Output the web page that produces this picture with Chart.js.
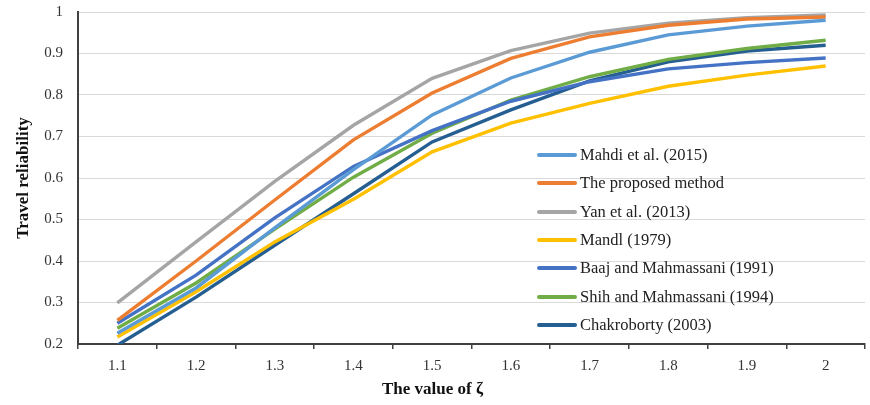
<!DOCTYPE html>
<html>
<head>
<meta charset="utf-8">
<script src="https://cdn.jsdelivr.net/npm/chart.js@4"></script>
<style>
    html, body { margin: 0; padding: 0; background: #fff; }
    #wrap { position: relative; width: 870px; height: 405px; }
    #legend { position: absolute; left: 537px; top: 141px; font-family: "Liberation Serif", "Times New Roman", serif; font-size: 16.5px; color: #222; }
    #legend .row { height: 28.3px; display: flex; align-items: center; }
    #legend .swatch { width: 40px; height: 4px; border-radius: 2px; margin-right: 3px; }
</style>
</head>
<body>
<div id="wrap">
    <canvas id="lineChart" width="870" height="405"></canvas>
    <div id="legend"></div>
</div>
<script>
    // values
    const zeta = ['1.1', '1.2', '1.3', '1.4', '1.5', '1.6', '1.7', '1.8', '1.9', '2'];
    const mahdi = [0.226, 0.335, 0.48, 0.62, 0.752, 0.841, 0.903, 0.945, 0.966, 0.98];
    const proposed = [0.257, 0.40, 0.547, 0.692, 0.805, 0.888, 0.94, 0.968, 0.983, 0.988];
    const yan = [0.299, 0.446, 0.592, 0.727, 0.84, 0.907, 0.949, 0.973, 0.986, 0.993];
    const mandl = [0.217, 0.326, 0.446, 0.549, 0.663, 0.732, 0.78, 0.821, 0.848, 0.87];
    const baaj = [0.25, 0.366, 0.504, 0.628, 0.714, 0.785, 0.832, 0.863, 0.878, 0.889];
    const shih = [0.238, 0.347, 0.477, 0.602, 0.708, 0.788, 0.844, 0.886, 0.912, 0.932];
    const chakroborty = [0.197, 0.313, 0.438, 0.562, 0.687, 0.764, 0.834, 0.88, 0.906, 0.92];
    const yTicks = [0.2, 0.3, 0.4, 0.5, 0.6, 0.7, 0.8, 0.9, 1];

    const serif = '"Liberation Serif", "Times New Roman", serif';

    function series(label, data, color) {
        return {
            label: label,
            data: data,
            borderColor: color,
            backgroundColor: color,
            borderWidth: 3.4,
            pointRadius: 0,
            tension: 0,
            fill: false
        };
    }

    // later series are drawn on top, like the original
    const datasets = [
        series('Mahdi et al. (2015)', mahdi, '#5B9BD5'),
        series('The proposed method', proposed, '#ED7D31'),
        series('Yan et al. (2013)', yan, '#A5A5A5'),
        series('Mandl (1979)', mandl, '#FFC000'),
        series('Baaj and Mahmassani (1991)', baaj, '#4472C4'),
        series('Shih and Mahmassani (1994)', shih, '#70AD47'),
        series('Chakroborty (2003)', chakroborty, '#255E91')
    ];

    const ctx = document.getElementById('lineChart').getContext('2d');
    const chart = new Chart(ctx, {
        type: 'line',
        data: { labels: zeta, datasets: datasets },
        options: {
            responsive: false,
            animation: false,
            layout: { padding: { left: 0, right: 5, top: 0, bottom: 0 } },
            plugins: {
                legend: { display: false },
                tooltip: { enabled: false },
                title: {
                    display: true,
                    position: 'bottom',
                    text: 'The value of ζ',
                    color: '#111',
                    font: { family: serif, size: 17, weight: 'bold' },
                    padding: { top: 0, bottom: 5 }
                }
            },
            scales: {
                x: {
                    offset: true,
                    grid: {
                        offset: true,
                        drawOnChartArea: false,
                        drawTicks: true,
                        tickLength: 5,
                        color: '#404040',
                        lineWidth: 1.5
                    },
                    border: { color: '#404040', width: 2 },
                    ticks: {
                        color: '#333',
                        font: { family: serif, size: 15 },
                        padding: 8,
                        maxRotation: 0
                    },
                    afterFit: function (scale) { scale.height = 35.6; }
                },
                y: {
                    min: 0.2,
                    max: 1,
                    grid: { color: '#d9d9d9', lineWidth: 1, drawTicks: false },
                    border: { color: '#404040', width: 2 },
                    afterBuildTicks: function (scale) {
                        scale.ticks = yTicks.map(v => ({ value: v }));
                    },
                    ticks: {
                        color: '#333',
                        font: { family: serif, size: 15 },
                        padding: 15,
                        callback: v => String(+(+v).toFixed(1))
                    },
                    title: {
                        display: true,
                        text: 'Travel reliability',
                        color: '#111',
                        font: { family: serif, size: 17, weight: 'bold' },
                        padding: { top: 13, bottom: 0 }
                    },
                    afterFit: function (scale) {
                        scale.width = 78;
                        scale.paddingTop = 12;
                    }
                }
            }
        }
    });

    // legend inside the plot, built from the datasets
    const legend = document.getElementById('legend');
    chart.data.datasets.forEach(ds => {
        const row = document.createElement('div');
        row.className = 'row';
        const sw = document.createElement('span');
        sw.className = 'swatch';
        sw.style.background = ds.borderColor;
        const txt = document.createElement('span');
        txt.textContent = ds.label;
        row.appendChild(sw);
        row.appendChild(txt);
        legend.appendChild(row);
    });
</script>
</body>
</html>
